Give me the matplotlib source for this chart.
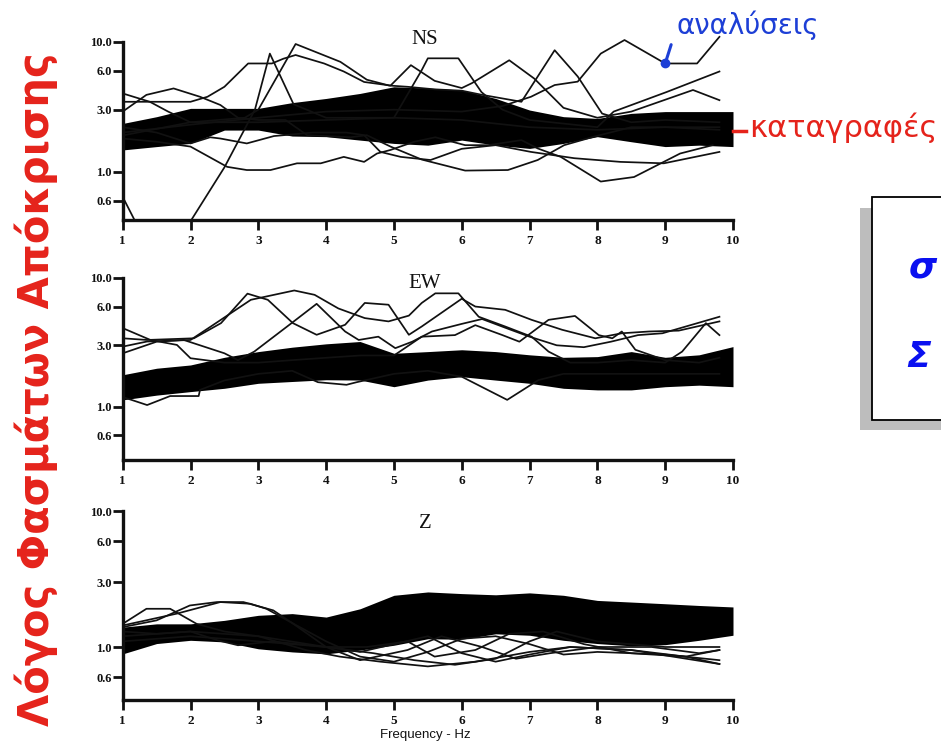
import numpy as np
import matplotlib
matplotlib.use("Agg")
import matplotlib.pyplot as plt
from matplotlib.patches import Rectangle
from matplotlib.ticker import NullLocator

plt.rcParams['font.family'] = ['Liberation Serif', 'DejaVu Sans']

# ---------------- data ----------------
band_x = [1.0, 1.5, 2.0, 2.5, 3.0, 3.5, 4.0, 4.5, 5.0, 5.5, 6.0, 6.5, 7.0, 7.5, 8.0, 8.5, 9.0, 9.5, 10.0]

ns_band_hi = [2.35, 2.65, 3.07, 3.07, 3.07, 3.40, 3.66, 4.00, 4.50, 4.40, 4.25, 3.66, 2.98, 2.65, 2.57, 2.81, 2.90, 2.90, 2.90]
ns_band_lo = [1.47, 1.56, 1.65, 2.09, 2.09, 1.88, 1.86, 1.75, 1.65, 1.60, 1.75, 1.60, 1.51, 1.65, 1.86, 1.70, 1.56, 1.60, 1.56]

ew_band_hi = [1.77, 1.99, 2.11, 2.42, 2.68, 2.90, 3.08, 3.21, 2.60, 2.68, 2.77, 2.68, 2.53, 2.42, 2.45, 2.68, 2.42, 2.53, 2.93]
ew_band_lo = [1.13, 1.23, 1.31, 1.39, 1.52, 1.57, 1.62, 1.61, 1.43, 1.61, 1.71, 1.61, 1.52, 1.39, 1.35, 1.35, 1.43, 1.47, 1.43]

z_band_hi = [1.40, 1.48, 1.48, 1.57, 1.71, 1.76, 1.66, 1.91, 2.40, 2.54, 2.47, 2.42, 2.50, 2.40, 2.20, 2.14, 2.08, 2.02, 1.97]
z_band_lo = [0.89, 1.06, 1.12, 1.09, 0.97, 0.92, 0.89, 0.95, 1.03, 1.15, 1.14, 1.25, 1.22, 1.12, 1.06, 1.02, 1.04, 1.12, 1.22]

ns_lines_x = [
    [1.0, 1.2, 1.98, 2.5, 2.95, 3.17, 3.52, 4.0, 5.0, 6.0, 7.0, 8.0, 9.0, 9.8],
    [1.0, 1.4, 1.67, 2.0, 3.0, 4.0, 5.0, 5.41, 5.5, 5.95, 6.29, 6.6, 7.0, 8.0, 8.24, 9.02, 9.8],
    [1.0, 1.35, 1.75, 2.14, 2.44, 2.7, 3.0, 3.4, 3.72, 4.36, 4.6, 4.95, 5.41, 6.05, 6.68, 7.12, 7.51, 7.95, 8.5, 9.0, 9.8],
    [1.0, 2.0, 2.25, 2.5, 2.85, 3.2, 3.37, 3.55, 3.97, 4.26, 4.56, 4.95, 5.25, 5.6, 6.0, 6.15, 6.7, 7.07, 7.5, 8.0, 8.5, 9.41, 9.8],
    [1.0, 2.0, 2.8, 3.0, 3.55, 4.21, 4.6, 4.93, 5.2, 5.6, 6.0, 6.3, 6.88, 7.37, 7.71, 8.07, 8.5, 9.0, 9.8],
    [1.0, 2.0, 3.0, 4.0, 5.0, 6.0, 6.6, 7.02, 7.37, 7.71, 8.05, 8.4, 9.0, 9.47, 9.8],
    [1.0, 1.5, 2.0, 2.54, 2.83, 3.18, 3.57, 3.92, 4.26, 4.56, 4.75, 4.95, 5.3, 5.61, 6.05, 6.39, 6.88, 7.12, 7.46, 8.05, 8.54, 9.22, 9.7],
    [1.0, 1.5, 2.0, 2.29, 2.44, 2.83, 3.23, 3.8, 4.3, 4.56, 4.8, 5.1, 5.54, 6.0, 6.5, 7.02, 7.66, 8.34, 8.98, 9.8],
]
ns_lines_y = [
    [0.64, 0.40, 0.40, 1.08, 3.0, 8.1, 3.3, 2.6, 2.6, 2.5, 2.2, 2.1, 2.2, 2.2],
    [4.0, 3.45, 2.9, 2.4, 2.4, 2.5, 2.6, 6.05, 7.45, 7.45, 4.1, 3.0, 2.5, 2.2, 2.9, 4.1, 5.9],
    [2.9, 3.9, 4.37, 3.77, 3.26, 2.6, 2.5, 2.5, 1.91, 1.84, 1.91, 1.56, 1.24, 1.02, 1.03, 1.23, 1.6, 1.86, 2.2, 2.2, 2.1],
    [3.45, 3.45, 3.77, 4.5, 6.8, 6.8, 7.4, 7.9, 6.8, 5.9, 4.9, 4.6, 6.6, 5.0, 4.4, 4.8, 7.2, 5.2, 3.1, 2.6, 2.9, 4.25, 3.55],
    [1.9, 2.4, 2.6, 3.0, 9.6, 7.0, 5.1, 4.6, 4.5, 4.3, 4.2, 3.9, 3.45, 8.6, 5.4, 2.8, 2.4, 2.5, 2.4],
    [2.0, 2.3, 2.6, 2.9, 3.0, 2.9, 3.2, 3.77, 4.64, 4.93, 8.1, 10.3, 6.8, 6.8, 10.9],
    [1.8, 1.7, 1.56, 1.09, 1.03, 1.03, 1.16, 1.16, 1.30, 1.19, 1.38, 1.47, 1.7, 1.84, 1.6, 1.6, 1.75, 1.51, 1.30, 0.84, 0.91, 1.38, 1.6],
    [2.2, 2.0, 1.65, 1.84, 1.80, 1.65, 1.88, 2.0, 2.0, 1.91, 1.42, 1.3, 1.23, 1.5, 1.6, 1.42, 1.27, 1.19, 1.16, 1.42],
]

ew_lines_x = [
    [1.0, 1.41, 1.8, 2.0, 2.5, 3.0, 3.5, 4.0, 4.5, 5.0, 5.41, 5.9, 6.2, 6.6, 6.85, 7.28, 7.67, 8.02, 8.22, 8.36, 8.56, 9.0, 9.5, 9.8],
    [1.0, 1.36, 2.05, 2.45, 2.84, 3.14, 3.51, 3.86, 4.28, 4.57, 4.92, 5.22, 5.41, 6.0, 6.2, 6.64, 7.03, 7.48, 7.97, 8.36, 8.76, 9.2, 9.8],
    [1.0, 1.36, 2.0, 2.3, 2.89, 3.53, 3.83, 4.18, 4.57, 4.92, 5.22, 5.41, 5.61, 5.95, 6.25, 6.64, 7.03, 7.28, 7.6, 8.0, 8.5, 9.0, 9.25, 9.6, 9.8],
    [1.0, 1.5, 1.9, 2.5, 2.7, 2.94, 3.49, 3.86, 4.28, 4.48, 4.77, 5.02, 5.27, 5.56, 6.0, 6.3, 6.7, 7.0, 7.4, 7.8, 8.2, 8.6, 8.96, 9.8],
    [1.0, 1.36, 1.7, 2.12, 2.14, 2.5, 3.0, 3.5, 3.88, 4.3, 4.45, 5.0, 5.5, 6.0, 6.67, 7.13, 7.5, 8.0, 9.0, 9.8],
]
ew_lines_y = [
    [4.08, 3.3, 3.02, 2.38, 2.2, 2.2, 2.3, 2.4, 2.5, 2.5, 3.5, 3.6, 4.3, 3.6, 3.2, 4.73, 5.07, 3.6, 3.4, 3.84, 2.77, 2.3, 2.2, 2.4],
    [3.4, 3.3, 3.4, 4.46, 7.56, 6.77, 4.46, 3.62, 4.33, 6.4, 6.2, 3.62, 4.2, 6.9, 6.0, 5.66, 4.73, 3.96, 3.4, 3.72, 3.84, 3.9, 4.6],
    [2.93, 3.21, 3.3, 4.2, 6.77, 8.0, 7.4, 5.8, 4.88, 4.6, 5.1, 6.4, 7.6, 7.6, 5.0, 4.2, 3.5, 2.68, 2.2, 2.2, 2.3, 2.2, 2.68, 4.46, 3.6],
    [2.6, 3.2, 3.3, 2.6, 2.3, 2.68, 4.46, 6.3, 3.84, 3.3, 3.5, 2.85, 3.2, 3.84, 4.4, 4.8, 4.0, 3.5, 3.0, 2.9, 3.2, 3.6, 3.72, 5.0],
    [1.19, 1.03, 1.21, 1.21, 1.35, 1.6, 1.8, 1.9, 1.55, 1.48, 1.55, 1.8, 1.9, 1.71, 1.13, 1.61, 1.8, 1.8, 1.8, 1.8],
]

z_lines_x = [
    [1.0, 1.35, 1.7, 2.09, 2.5, 3.0, 3.7, 4.2, 4.8, 5.5, 6.2, 7.0, 7.6, 8.5, 9.8],
    [1.0, 1.5, 1.99, 2.39, 2.78, 3.22, 3.5, 4.0, 4.5, 5.0, 5.5, 6.0, 6.5, 7.0, 7.5, 8.0, 9.0, 9.8],
    [1.0, 1.8, 2.44, 2.88, 3.12, 3.5, 4.0, 4.5, 5.2, 5.7, 6.3, 6.8, 7.3, 8.0, 8.8, 9.5, 9.8],
    [1.0, 1.5, 2.0, 2.4, 2.7, 3.2, 4.0, 4.5, 5.0, 5.5, 6.0, 6.5, 7.0, 7.6, 8.5, 9.3, 9.8],
    [1.0, 2.0, 3.0, 4.0, 4.7, 5.3, 5.9, 6.5, 7.0, 7.4, 8.0, 9.0, 9.8],
    [1.0, 2.0, 3.0, 4.0, 4.6, 5.2, 5.6, 6.2, 6.7, 7.2, 7.8, 8.5, 9.3, 9.8],
]
z_lines_y = [
    [1.48, 1.91, 1.91, 1.48, 1.3, 1.2, 0.95, 0.85, 0.78, 0.72, 0.78, 0.92, 1.0, 0.95, 0.75],
    [1.40, 1.57, 2.02, 2.14, 2.14, 1.86, 1.5, 1.1, 0.85, 0.78, 0.92, 1.15, 1.2, 1.05, 0.88, 0.92, 0.88, 0.8],
    [1.44, 1.76, 2.14, 2.08, 1.91, 1.5, 1.0, 0.80, 0.95, 1.2, 1.0, 0.82, 0.9, 1.0, 1.0, 0.9, 0.95],
    [1.3, 1.25, 1.3, 1.12, 1.03, 1.1, 1.0, 0.92, 1.05, 1.2, 0.9, 0.78, 0.88, 1.0, 0.95, 0.85, 0.95],
    [1.2, 1.3, 1.2, 1.0, 0.9, 0.8, 0.74, 0.82, 1.1, 1.3, 1.1, 1.0, 1.0],
    [1.1, 1.2, 1.1, 1.0, 1.0, 1.1, 0.85, 0.95, 1.25, 1.3, 1.05, 0.9, 0.85, 0.75],
]

ytick_vals = [0.6, 1.0, 3.0, 6.0, 10.0]
ytick_labels = ['0.6', '1.0', '3.0', '6.0', '10.0']
xtick_vals = [1, 2, 3, 4, 5, 6, 7, 8, 9, 10]
panel_titles = ['NS', 'EW', 'Z']

# ---------------- layout helpers ----------------
W, H = 941, 747
fig = plt.figure(figsize=(W / 100, H / 100), dpi=100)
fig.patch.set_facecolor('white')


def fx(px):
    return px / W


def fy(py):
    return 1 - py / H


X_LEFT, X_RIGHT = 122.7, 733.0


def make_axes(top10, axis_py, per_dec):
    ylow = 10 ** (1 - (axis_py - top10) / per_dec)
    yhigh = 11.5
    top_py = top10 - per_dec * np.log10(yhigh / 10)
    ax = fig.add_axes([fx(X_LEFT), fy(axis_py), (X_RIGHT - X_LEFT) / W, (axis_py - top_py) / H])
    ax.set_yscale('log')
    ax.set_ylim(ylow, yhigh)
    ax.set_xlim(1, 10)
    ax.set_facecolor('none')
    for s in ['top', 'right']:
        ax.spines[s].set_visible(False)
    for s in ['left', 'bottom']:
        ax.spines[s].set_linewidth(2.4)
        ax.spines[s].set_color('#111111')
    ax.spines['left'].set_bounds(ylow, 10)
    ax.set_yticks(ytick_vals)
    ax.set_yticklabels(ytick_labels)
    ax.yaxis.set_minor_locator(NullLocator())
    ax.set_xticks(xtick_vals)
    ax.set_xticklabels([str(v) for v in xtick_vals])
    ax.tick_params(axis='y', direction='out', length=7, width=2, labelsize=9, pad=1, colors='#111111')
    ax.tick_params(axis='x', direction='out', length=7, width=2, labelsize=9.5, pad=4, colors='#111111')
    for lab in ax.get_xticklabels() + ax.get_yticklabels():
        lab.set_fontweight('bold')
    return ax


panels = [
    (41.7, 220.0, 130.0, ns_band_lo, ns_band_hi, ns_lines_x, ns_lines_y, 40),
    (278.0, 460.0, 128.7, ew_band_lo, ew_band_hi, ew_lines_x, ew_lines_y, 283),
    (511.0, 700.0, 136.0, z_band_lo, z_band_hi, z_lines_x, z_lines_y, 524),
]

axes = []
for i, (t10, apy, pdec, lo, hi, lx, ly, title_py) in enumerate(panels):
    ax = make_axes(t10, apy, pdec)
    ax.fill_between(band_x, lo, hi, color='black', lw=0, zorder=2)
    for xs, ys in zip(lx, ly):
        ax.plot(xs, ys, color='#111111', lw=1.25, zorder=3)
    fig.text(fx(425), fy(title_py), panel_titles[i], ha='center', va='center',
             fontsize=15, family='Liberation Serif', color='#111111')
    axes.append(ax)

fig.text(fx(425), fy(735), 'Frequency - Hz', ha='center', va='center',
         fontsize=9.5, family='Liberation Sans', color='#111111')

# ---------------- red y label ----------------
RED = '#e5231b'
BLUE = '#1d3fd6'
fig.text(fx(36), fy(389), 'Λόγος Φασμάτων Απόκρισης', rotation=90, color=RED,
         fontsize=30, fontweight='bold', family='DejaVu Sans', ha='center', va='center')

# ---------------- annotations ----------------
ax0 = axes[0]
ax0.plot([9.0], [6.8], 'o', color=BLUE, ms=6, zorder=5, clip_on=False)
ax0.annotate('', xy=(9.0, 6.8), xycoords='data',
             xytext=(fx(672), fy(42)), textcoords='figure fraction',
             arrowprops=dict(arrowstyle='-', color=BLUE, lw=2.2))
fig.text(fx(676), fy(25), 'αναλύσεις', color=BLUE, fontsize=20,
         family='DejaVu Sans', ha='left', va='center')

fig.add_artist(plt.Line2D([fx(733), fx(746)], [fy(131), fy(131)], color=RED, lw=2.5,
                          transform=fig.transFigure))
fig.text(fx(749), fy(128), 'καταγραφές', color=RED, fontsize=22,
         family='DejaVu Sans', ha='left', va='center')

# ---------------- clipped box on the right ----------------
fig.add_artist(Rectangle((fx(860), fy(430)), fx(120), (430 - 208) / H,
                         transform=fig.transFigure, facecolor='#bdbdbd', edgecolor='none'))
fig.add_artist(Rectangle((fx(872), fy(420)), fx(120), (420 - 197) / H,
                         transform=fig.transFigure, facecolor='white', edgecolor='black', lw=1.3))
fig.text(fx(909), fy(268), 'σ', color='#0a10f0', fontsize=26, fontweight='bold',
         fontstyle='italic', family='DejaVu Sans', ha='left', va='center')
fig.text(fx(906), fy(357), 'Σ', color='#0a10f0', fontsize=26, fontweight='bold',
         fontstyle='italic', family='DejaVu Sans', ha='left', va='center')

fig.savefig('out.png', dpi=100)
